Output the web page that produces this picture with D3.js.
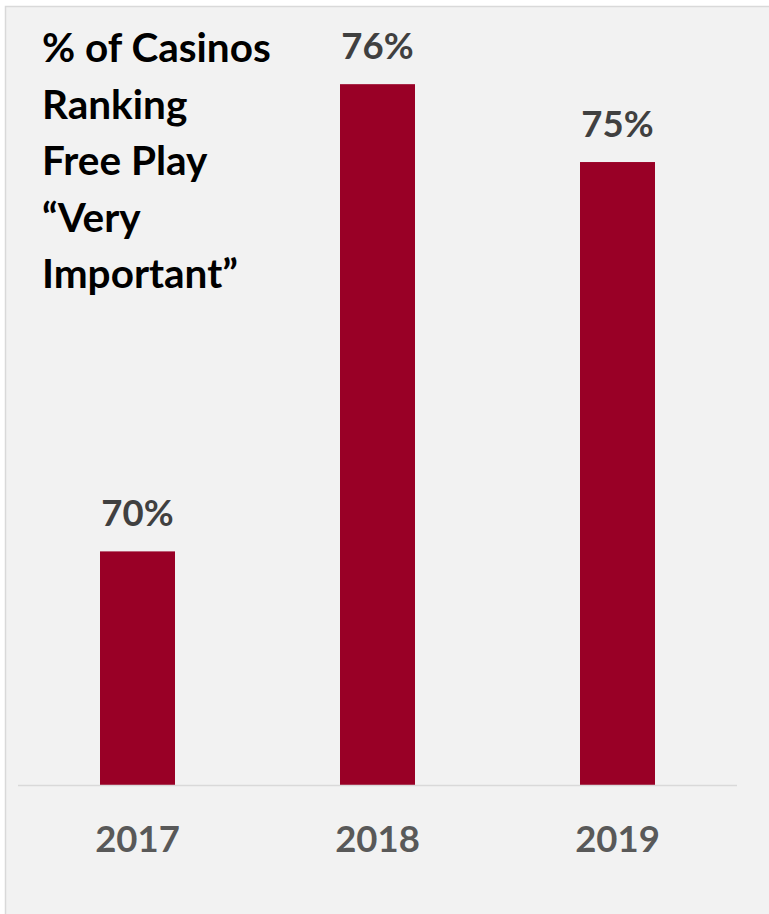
<!DOCTYPE html>
<html><head><meta charset="utf-8">
<script src="https://cdn.jsdelivr.net/npm/d3@7"></script>
<style>html,body{margin:0;padding:0;background:#fff;}svg{display:block;}</style>
</head><body>
<script>
const categories = ["2017", "2018", "2019"];
const values = [70, 76, 75];
const valueLabels = ["70%", "76%", "75%"];
const titleLines = ["% of Casinos", "Ranking", "Free Play", "\u201CVery", "Important\u201D"];

const W = 769, H = 914;
const svg = d3.select("body").append("svg").attr("width", W).attr("height", H);
const font = "Lato, 'Open Sans', sans-serif";

svg.append("rect").attr("x", 5.5).attr("y", 6.5).attr("width", W + 10).attr("height", H + 10)
  .attr("fill", "#f2f2f2").attr("stroke", "#d9d9d9").attr("stroke-width", 1.5);

const x = d3.scaleBand().domain(categories).range([17.5, 737.5]).paddingInner(0.6875).paddingOuter(0.34375);
const y = d3.scaleLinear().domain([67, 77]).range([785, 6.3]);

svg.selectAll("rect.bar").data(values).join("rect").attr("class", "bar")
  .attr("x", (d, i) => x(categories[i])).attr("width", x.bandwidth())
  .attr("y", d => y(d)).attr("height", d => y(67) - y(d))
  .attr("fill", "#990026");

svg.append("line").attr("x1", 18).attr("x2", 737).attr("y1", 785.5).attr("y2", 785.5)
  .attr("stroke", "#d9d9d9").attr("stroke-width", 1.5);

svg.selectAll("text.val").data(values).join("text").attr("class", "val")
  .attr("x", (d, i) => x(categories[i]) + x.bandwidth() / 2)
  .attr("y", d => y(d) - 25)
  .attr("text-anchor", "middle").attr("font-family", font).attr("font-weight", 700)
  .attr("font-size", 36.5).attr("fill", "#404040").text((d, i) => valueLabels[i]);

const xAxis = svg.append("g").attr("transform", "translate(0,785)")
  .call(d3.axisBottom(x).tickSize(0));
xAxis.select(".domain").remove();
xAxis.selectAll("text").attr("font-family", font).attr("font-weight", 700)
  .attr("font-size", 36.5).attr("fill", "#595959").attr("y", 67).attr("dy", 0);

svg.append("g").selectAll("text").data(titleLines).join("text")
  .attr("x", 42).attr("y", (d, i) => 62 + i * 56.5)
  .attr("font-family", font).attr("font-weight", 700).attr("font-size", 40.5)
  .attr("fill", "#000").text(d => d);
</script>
</body></html>
